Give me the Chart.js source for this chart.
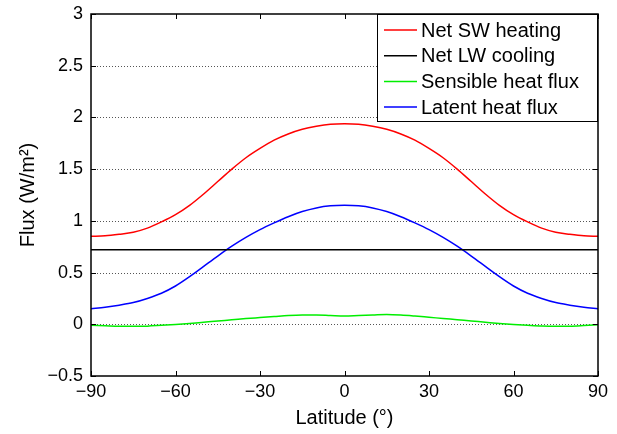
<!DOCTYPE html>
<html>
<head>
<meta charset="utf-8">
<script src="https://cdn.jsdelivr.net/npm/chart.js@4/dist/chart.umd.min.js"></script>
<style>
  html, body { margin: 0; padding: 0; background: #fff; }
  #wrap { width: 617px; height: 434px; }
</style>
</head>
<body>
<div id="wrap"><canvas id="fluxChart" width="617" height="434"></canvas></div>
<script>
// latitude every 5 degrees
const latitudes = [-90, -85, -80, -75, -70, -65, -60, -55, -50, -45, -40, -35, -30, -25, -20, -15, -10, -5, 0,
                   5, 10, 15, 20, 25, 30, 35, 40, 45, 50, 55, 60, 65, 70, 75, 80, 85, 90];
const netSW = [0.85, 0.855, 0.87, 0.89, 0.93, 0.99, 1.06, 1.15, 1.26, 1.38, 1.50, 1.61, 1.70, 1.78, 1.84, 1.885, 1.915, 1.935, 1.94,
               1.935, 1.915, 1.885, 1.84, 1.78, 1.70, 1.61, 1.50, 1.38, 1.26, 1.15, 1.06, 0.99, 0.93, 0.89, 0.87, 0.855, 0.85];
const netLW = latitudes.map(() => 0.72);
const sensible = [-0.01, -0.015, -0.02, -0.02, -0.018, -0.01, -0.002, 0.008, 0.02, 0.032, 0.043, 0.055, 0.065, 0.075, 0.085, 0.09, 0.09, 0.085, 0.08,
                  0.085, 0.09, 0.095, 0.09, 0.08, 0.068, 0.056, 0.044, 0.032, 0.02, 0.008, -0.002, -0.01, -0.017, -0.02, -0.018, -0.012, -0.005];
const latent = [0.15, 0.165, 0.185, 0.21, 0.25, 0.30, 0.37, 0.46, 0.56, 0.66, 0.755, 0.84, 0.915, 0.98, 1.04, 1.09, 1.125, 1.145, 1.15,
                1.145, 1.125, 1.09, 1.04, 0.98, 0.915, 0.84, 0.755, 0.66, 0.56, 0.46, 0.37, 0.30, 0.25, 0.21, 0.185, 0.165, 0.15];
const xTicks = [-90, -60, -30, 0, 30, 60, 90];
const yTicks = [-0.5, 0, 0.5, 1, 1.5, 2, 2.5, 3];

const FONT = 'Helvetica, "Liberation Sans", Arial, sans-serif';
const fmt = v => (v < 0 ? '\u2212' + Math.abs(v) : String(v));

function series(label, values, color) {
    return {
        label: label,
        data: latitudes.map((x, i) => ({ x: x, y: values[i] })),
        borderColor: color,
        borderWidth: 1.5,
        pointRadius: 0,
        cubicInterpolationMode: 'monotone',
        fill: false
    };
}

// MATLAB style box, inward ticks, dotted y grid, legend in the corner
const boxPlugin = {
    id: 'box',
    beforeDatasetsDraw(chart) {
        const { ctx, chartArea: a, scales: { y } } = chart;
        ctx.save();
        ctx.strokeStyle = '#555';
        ctx.lineWidth = 1;
        ctx.setLineDash([1, 2]);
        yTicks.forEach(v => {
            if (v <= -0.5 || v >= 3) return;
            const py = Math.round(y.getPixelForValue(v)) + 0.5;
            ctx.beginPath(); ctx.moveTo(a.left, py); ctx.lineTo(a.right, py); ctx.stroke();
        });
        ctx.restore();
    },
    afterDatasetsDraw(chart) {
        const { ctx, chartArea: a, scales: { x, y } } = chart;
        ctx.save();
        ctx.strokeStyle = '#000';
        ctx.lineWidth = 1;
        const t = 5;
        xTicks.forEach(v => {
            const px = Math.round(x.getPixelForValue(v)) + 0.5;
            ctx.beginPath();
            ctx.moveTo(px, a.bottom); ctx.lineTo(px, a.bottom - t);
            ctx.moveTo(px, a.top); ctx.lineTo(px, a.top + t);
            ctx.stroke();
        });
        yTicks.forEach(v => {
            const py = Math.round(y.getPixelForValue(v)) + 0.5;
            ctx.beginPath();
            ctx.moveTo(a.left, py); ctx.lineTo(a.left + t, py);
            ctx.moveTo(a.right, py); ctx.lineTo(a.right - t, py);
            ctx.stroke();
        });
        ctx.lineWidth = 1.5;
        ctx.strokeRect(a.left, a.top, a.right - a.left, a.bottom - a.top);

        // legend
        const lx = 377, ly = a.top, lw = a.right - lx, lh = 107;
        ctx.fillStyle = '#fff';
        ctx.fillRect(lx, ly, lw, lh);
        ctx.lineWidth = 1;
        ctx.strokeRect(lx + 0.5, ly + 0.5, lw - 1, lh);
        ctx.font = '20px ' + FONT;
        ctx.textBaseline = 'middle';
        chart.data.datasets.forEach((ds, i) => {
            const ry = ly + 16 + i * 25.7;
            ctx.strokeStyle = ds.borderColor;
            ctx.lineWidth = 1.5;
            ctx.beginPath(); ctx.moveTo(384, ry); ctx.lineTo(417, ry); ctx.stroke();
            ctx.fillStyle = '#000';
            ctx.fillText(ds.label, 421, ry + 1);
        });
        ctx.restore();
    }
};

new Chart(document.getElementById('fluxChart').getContext('2d'), {
    type: 'line',
    data: {
        datasets: [
            series('Net SW heating', netSW, '#ff0000'),
            series('Net LW cooling', netLW, '#000000'),
            series('Sensible heat flux', sensible, '#00ee00'),
            series('Latent heat flux', latent, '#0000ff')
        ]
    },
    options: {
        responsive: false,
        animation: false,
        layout: { padding: { top: 14, right: 19, left: 0, bottom: 0 } },
        plugins: { legend: { display: false }, tooltip: { enabled: false } },
        scales: {
            x: {
                type: 'linear', min: -90, max: 90,
                afterBuildTicks: s => { s.ticks = xTicks.map(v => ({ value: v })); },
                afterFit: s => { s.height = 58; s.paddingLeft = 0; s.paddingRight = 0; },
                grid: { display: false, drawTicks: false },
                border: { display: false },
                ticks: { color: '#000', font: { family: FONT, size: 18 }, padding: 5, maxRotation: 0, callback: fmt },
                title: { display: true, text: 'Latitude (\u00b0)', color: '#000', font: { family: FONT, size: 20 }, padding: { top: 2 } }
            },
            y: {
                type: 'linear', min: -0.5, max: 3,
                afterBuildTicks: s => { s.ticks = yTicks.map(v => ({ value: v })); },
                afterFit: s => { s.width = 91; s.paddingTop = 0; s.paddingBottom = 0; },
                grid: { display: false, drawTicks: false },
                border: { display: false },
                ticks: { color: '#000', font: { family: FONT, size: 18 }, padding: 8, callback: fmt },
                title: { display: true, text: 'Flux (W/m\u00b2)', color: '#000', font: { family: FONT, size: 20 }, padding: { top: 16, bottom: 0 } }
            }
        }
    },
    plugins: [boxPlugin]
});
</script>
</body>
</html>
